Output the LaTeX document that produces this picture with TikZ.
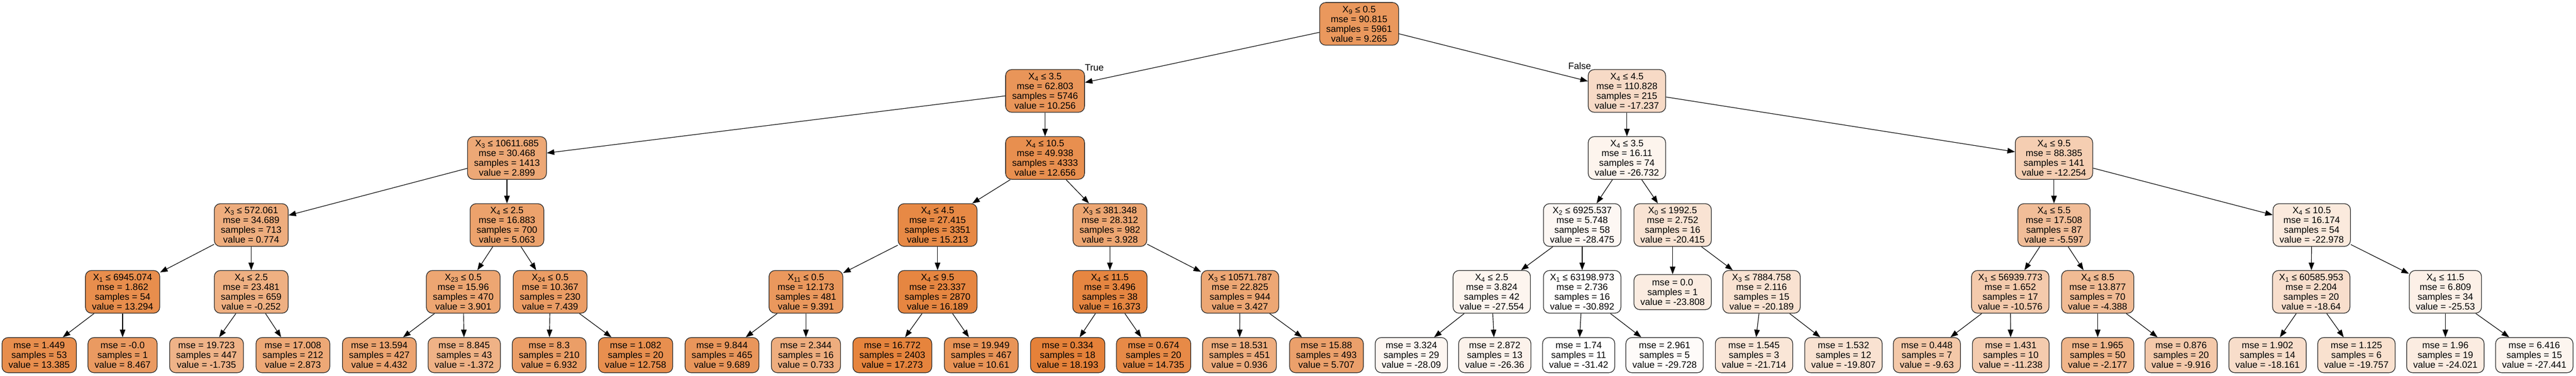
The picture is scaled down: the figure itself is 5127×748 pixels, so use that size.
\documentclass[tikz,border=0pt]{standalone}
\usepackage{fontspec}
\setmainfont{Liberation Sans}
\usetikzlibrary{arrows.meta}
\definecolor{gv}{RGB}{229,129,57}
\newcommand\nodefont{\fontsize{18.5}{19.5}\selectfont}
\newcommand\Xs[1]{X\textsubscript{#1}}
\tikzset{
  tn/.style={draw=black!85, line width=1.3pt, rounded corners=12pt, align=center,
    inner xsep=13pt, inner ysep=0pt, minimum height=85pt, font=\nodefont},
  lf/.style={tn, minimum height=70pt},
  arr/.style={draw=black, line width=1.2pt, -{Triangle[length=15pt,width=11pt]}},
  lbl/.style={font=\nodefont, inner sep=0pt}
}
\begin{document}
\begin{tikzpicture}[x=1pt,y=-1pt]
\useasboundingbox[fill=white] (0,0) rectangle (5127,748);
% level 0
\node[tn,fill=gv!82!white] (r) at (2705,47.5) {\Xs{9} ≤ 0.5\\mse = 90.815\\samples = 5961\\value = 9.265};
% level 1
\node[tn,fill=gv!84!white] (a) at (2080,181) {\Xs{4} ≤ 3.5\\mse = 62.803\\samples = 5746\\value = 10.256};
\node[tn,fill=gv!29!white] (b) at (3238,181) {\Xs{4} ≤ 4.5\\mse = 110.828\\samples = 215\\value = -17.237};
% level 2
\node[tn,fill=gv!69!white] (aa) at (1009,314.5) {\Xs{3} ≤ 10611.685\\mse = 30.468\\samples = 1413\\value = 2.899};
\node[tn,fill=gv!89!white] (ab) at (2080,314.5) {\Xs{4} ≤ 10.5\\mse = 49.938\\samples = 4333\\value = 12.656};
\node[tn,fill=gv!9!white] (ba) at (3238,314.5) {\Xs{4} ≤ 3.5\\mse = 16.11\\samples = 74\\value = -26.732};
\node[tn,fill=gv!39!white] (bb) at (4088,314.5) {\Xs{4} ≤ 9.5\\mse = 88.385\\samples = 141\\value = -12.254};
% level 3
\node[tn,fill=gv!65!white] (aaa) at (500,448) {\Xs{3} ≤ 572.061\\mse = 34.689\\samples = 713\\value = 0.774};
\node[tn,fill=gv!74!white] (aab) at (1009,448) {\Xs{4} ≤ 2.5\\mse = 16.883\\samples = 700\\value = 5.063};
\node[tn,fill=gv!94!white] (aba) at (1866,448) {\Xs{4} ≤ 4.5\\mse = 27.415\\samples = 3351\\value = 15.213};
\node[tn,fill=gv!71!white] (abb) at (2209,448) {\Xs{3} ≤ 381.348\\mse = 28.312\\samples = 982\\value = 3.928};
\node[tn,fill=gv!6!white] (baa) at (3149,448) {\Xs{2} ≤ 6925.537\\mse = 5.748\\samples = 58\\value = -28.475};
\node[tn,fill=gv!22!white] (bab) at (3329,448) {\Xs{0} ≤ 1992.5\\mse = 2.752\\samples = 16\\value = -20.415};
\node[tn,fill=gv!52!white] (bba) at (4088,448) {\Xs{4} ≤ 5.5\\mse = 17.508\\samples = 87\\value = -5.597};
\node[tn,fill=gv!17!white] (bbb) at (4601,448) {\Xs{4} ≤ 10.5\\mse = 16.174\\samples = 54\\value = -22.978};
% level 4
\node[tn,fill=gv!90!white] (aaaa) at (244,581) {\Xs{1} ≤ 6945.074\\mse = 1.862\\samples = 54\\value = 13.294};
\node[tn,fill=gv!63!white] (aaab) at (500,581) {\Xs{4} ≤ 2.5\\mse = 23.481\\samples = 659\\value = -0.252};
\node[tn,fill=gv!71!white] (aaba) at (922,581) {\Xs{23} ≤ 0.5\\mse = 15.96\\samples = 470\\value = 3.901};
\node[tn,fill=gv!78!white] (aabb) at (1095,581) {\Xs{24} ≤ 0.5\\mse = 10.367\\samples = 230\\value = 7.439};
\node[tn,fill=gv!82!white] (abaa) at (1604,581) {\Xs{11} ≤ 0.5\\mse = 12.173\\samples = 481\\value = 9.391};
\node[tn,fill=gv!96!white] (abab) at (1866,581) {\Xs{4} ≤ 9.5\\mse = 23.337\\samples = 2870\\value = 16.189};
\node[tn,fill=gv!96!white] (abba) at (2209,581) {\Xs{4} ≤ 11.5\\mse = 3.496\\samples = 38\\value = 16.373};
\node[tn,fill=gv!70!white] (abbb) at (2468,581) {\Xs{3} ≤ 10571.787\\mse = 22.825\\samples = 944\\value = 3.427};
\node[tn,fill=gv!8!white] (baaa) at (2969,581) {\Xs{4} ≤ 2.5\\mse = 3.824\\samples = 42\\value = -27.554};
\node[tn,fill=gv!1!white] (baab) at (3149,581) {\Xs{1} ≤ 63198.973\\mse = 2.736\\samples = 16\\value = -30.892};
\node[lf,fill=gv!15!white] (baba) at (3329,581.5) {mse = 0.0\\samples = 1\\value = -23.808};
\node[tn,fill=gv!23!white] (babb) at (3506,581) {\Xs{3} ≤ 7884.758\\mse = 2.116\\samples = 15\\value = -20.189};
\node[tn,fill=gv!42!white] (bbaa) at (4001,581) {\Xs{1} ≤ 56939.773\\mse = 1.652\\samples = 17\\value = -10.576};
\node[tn,fill=gv!54!white] (bbab) at (4175,581) {\Xs{4} ≤ 8.5\\mse = 13.877\\samples = 70\\value = -4.388};
\node[tn,fill=gv!26!white] (bbba) at (4600,581) {\Xs{1} ≤ 60585.953\\mse = 2.204\\samples = 20\\value = -18.64};
\node[tn,fill=gv!12!white] (bbbb) at (4867,581) {\Xs{4} ≤ 11.5\\mse = 6.809\\samples = 34\\value = -25.53};
% level 5 leaves
\node[lf,fill=gv!90!white] (l1) at (78,707) {mse = 1.449\\samples = 53\\value = 13.385};
\node[lf,fill=gv!80!white] (l2) at (244,707) {mse = -0.0\\samples = 1\\value = 8.467};
\node[lf,fill=gv!60!white] (l3) at (411,707) {mse = 19.723\\samples = 447\\value = -1.735};
\node[lf,fill=gv!69!white] (l4) at (583,707) {mse = 17.008\\samples = 212\\value = 2.873};
\node[lf,fill=gv!72!white] (l5) at (755,707) {mse = 13.594\\samples = 427\\value = 4.432};
\node[lf,fill=gv!61!white] (l6) at (924,707) {mse = 8.845\\samples = 43\\value = -1.372};
\node[lf,fill=gv!77!white] (l7) at (1093,707) {mse = 8.3\\samples = 210\\value = 6.932};
\node[lf,fill=gv!89!white] (l8) at (1265,707) {mse = 1.082\\samples = 20\\value = 12.758};
\node[lf,fill=gv!83!white] (l9) at (1437,707) {mse = 9.844\\samples = 465\\value = 9.689};
\node[lf,fill=gv!65!white] (l10) at (1604,707) {mse = 2.344\\samples = 16\\value = 0.733};
\node[lf,fill=gv!98!white] (l11) at (1776,707) {mse = 16.772\\samples = 2403\\value = 17.273};
\node[lf,fill=gv!85!white] (l12) at (1953,707) {mse = 19.949\\samples = 467\\value = 10.61};
\node[lf,fill=gv!100!white] (l13) at (2125,707) {mse = 0.334\\samples = 18\\value = 18.193};
\node[lf,fill=gv!93!white] (l14) at (2296,707) {mse = 0.674\\samples = 20\\value = 14.735};
\node[lf,fill=gv!65!white] (l15) at (2467,707) {mse = 18.531\\samples = 451\\value = 0.936};
\node[lf,fill=gv!75!white] (l16) at (2640,707) {mse = 15.88\\samples = 493\\value = 5.707};
\node[lf,fill=gv!7!white] (l17) at (2809,707) {mse = 3.324\\samples = 29\\value = -28.09};
\node[lf,fill=gv!10!white] (l18) at (2975,707) {mse = 2.872\\samples = 13\\value = -26.36};
\node[lf,fill=white] (l19) at (3142,707) {mse = 1.74\\samples = 11\\value = -31.42};
\node[lf,fill=gv!3!white] (l20) at (3313,707) {mse = 2.961\\samples = 5\\value = -29.728};
\node[lf,fill=gv!20!white] (l21) at (3491,707) {mse = 1.545\\samples = 3\\value = -21.714};
\node[lf,fill=gv!23!white] (l22) at (3669,707) {mse = 1.532\\samples = 12\\value = -19.807};
\node[lf,fill=gv!44!white] (l23) at (3835,707) {mse = 0.448\\samples = 7\\value = -9.63};
\node[lf,fill=gv!41!white] (l24) at (4002,707) {mse = 1.431\\samples = 10\\value = -11.238};
\node[lf,fill=gv!59!white] (l25) at (4175,707) {mse = 1.965\\samples = 50\\value = -2.177};
\node[lf,fill=gv!43!white] (l26) at (4341,707) {mse = 0.876\\samples = 20\\value = -9.916};
\node[lf,fill=gv!27!white] (l27) at (4513,707) {mse = 1.902\\samples = 14\\value = -18.161};
\node[lf,fill=gv!24!white] (l28) at (4690,707) {mse = 1.125\\samples = 6\\value = -19.757};
\node[lf,fill=gv!15!white] (l29) at (4867,707) {mse = 1.96\\samples = 19\\value = -24.021};
\node[lf,fill=gv!8!white] (l30) at (5044,707) {mse = 6.416\\samples = 15\\value = -27.441};
% edges
\foreach \p/\c in {r/a, r/b, a/aa, a/ab, b/ba, b/bb,
  aa/aaa, aa/aab, ab/aba, ab/abb, ba/baa, ba/bab, bb/bba, bb/bbb,
  aaa/aaaa, aaa/aaab, aab/aaba, aab/aabb, aba/abaa, aba/abab, abb/abba, abb/abbb,
  baa/baaa, baa/baab, bab/baba, bab/babb, bba/bbaa, bba/bbab, bbb/bbba, bbb/bbbb,
  aaaa/l1, aaaa/l2, aaab/l3, aaab/l4, aaba/l5, aaba/l6, aabb/l7, aabb/l8,
  abaa/l9, abaa/l10, abab/l11, abab/l12, abba/l13, abba/l14, abbb/l15, abbb/l16,
  baaa/l17, baaa/l18, baab/l19, baab/l20, babb/l21, babb/l22,
  bbaa/l23, bbaa/l24, bbab/l25, bbab/l26, bbba/l27, bbba/l28, bbbb/l29, bbbb/l30}
  \draw[arr] (\p) -- (\c);
\node[lbl] (tl) at (2178,135) {True};
\node[lbl] (fl) at (3144,131) {False};
\end{tikzpicture}
\end{document}
